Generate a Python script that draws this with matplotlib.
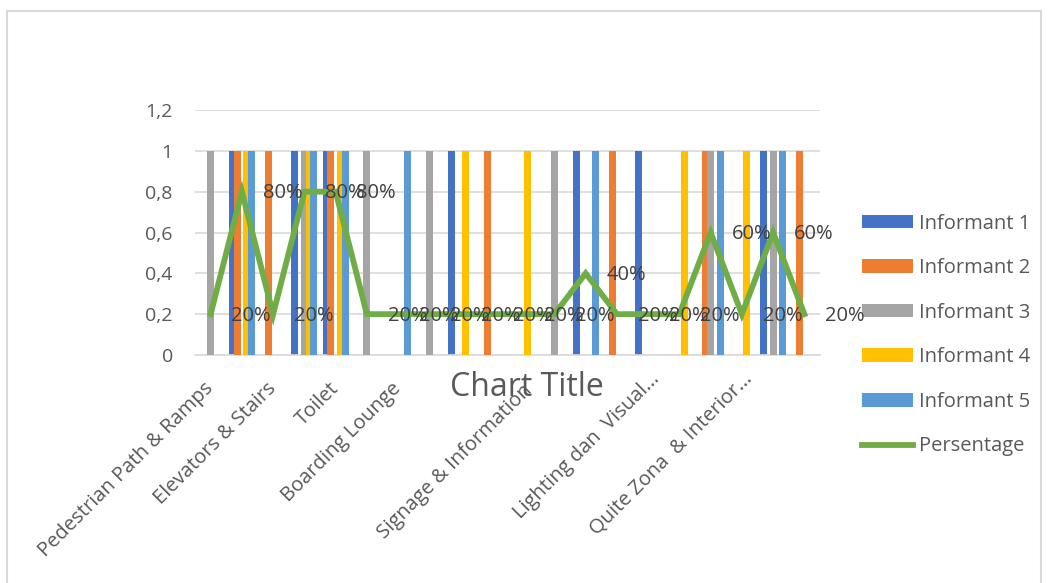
import numpy as np
import matplotlib
matplotlib.use("Agg")
from matplotlib import pyplot as plt
from matplotlib.patches import Rectangle
from matplotlib.transforms import ScaledTranslation

plt.rcParams['font.family'] = ['Open Sans', 'DejaVu Sans']

# 20 categories, only some of them carry a name
categories = ['Pedestrian Path & Ramps', '', 'Elevators & Stairs', '', 'Toilet', '',
              'Boarding Lounge', '', '', '', 'Signage & Information', '', '', '',
              'Lighting dan  Visual...', '', '', 'Quite Zona  & Interior...', '', '']

informant_1 = [0, 1, 0, 1, 1, 0, 0, 0, 1, 0, 0, 0, 1, 0, 1, 0, 0, 0, 1, 0]
informant_2 = [0, 1, 1, 0, 1, 0, 0, 0, 0, 1, 0, 0, 0, 1, 0, 0, 1, 0, 0, 1]
informant_3 = [1, 0, 0, 1, 0, 1, 0, 1, 0, 0, 0, 1, 0, 0, 0, 0, 1, 0, 1, 0]
informant_4 = [0, 1, 0, 1, 1, 0, 0, 0, 1, 0, 1, 0, 0, 0, 0, 1, 0, 1, 0, 0]
informant_5 = [0, 1, 0, 1, 1, 0, 1, 0, 0, 0, 0, 0, 1, 0, 0, 0, 1, 0, 1, 0]
persentage = [0.2, 0.8, 0.2, 0.8, 0.8, 0.2, 0.2, 0.2, 0.2, 0.2,
              0.2, 0.2, 0.4, 0.2, 0.2, 0.2, 0.6, 0.2, 0.6, 0.2]

series_names = ['Informant 1', 'Informant 2', 'Informant 3', 'Informant 4', 'Informant 5']
colors = ['#4472C4', '#ED7D31', '#A5A5A5', '#FFC000', '#5B9BD5']
text_col = '#595959'

W, H = 1052, 583
fig = plt.figure(figsize=(W / 100, H / 100), dpi=100)
ax = fig.add_axes([195 / W, 1 - 355 / H, (820 - 195) / W, (355 - 110) / H])

x = np.arange(len(categories))
step = 0.152
width = 0.224
handles = []
for i, (vals, name, c) in enumerate(zip(
        [informant_1, informant_2, informant_3, informant_4, informant_5], series_names, colors)):
    handles.append(ax.bar(x + (i - 2) * step, vals, width, color=c, label=name, zorder=2 + i))

line, = ax.plot(x, persentage, color='#70AD47', lw=4.2, label='Persentage', zorder=10,
                solid_joinstyle='miter')
handles.append(line)
for xi, v in zip(x, persentage):
    ax.annotate(f"{int(round(v * 100))}%", (xi, v), xytext=(15, -1), textcoords='offset points',
                ha='left', va='center', fontsize=14.5, color='#404040', zorder=11)

ax.set_xlim(-0.5, len(categories) - 0.5)
ax.set_ylim(0, 1.2)
ax.set_yticks(np.arange(0, 1.21, 0.2))
ax.set_yticklabels(['0', '0,2', '0,4', '0,6', '0,8', '1', '1,2'])
ax.yaxis.grid(True, color='#D9D9D9', lw=1.2, zorder=0)
ax.set_axisbelow(True)
for s in ['left', 'right', 'top']:
    ax.spines[s].set_visible(False)
ax.spines['bottom'].set_color('#D9D9D9')
ax.spines['bottom'].set_linewidth(1.2)
ax.tick_params(axis='y', length=0, pad=16, labelsize=14, labelcolor=text_col)

named = [i for i, c in enumerate(categories) if c]
ax.set_xticks(named)
ax.set_xticklabels([categories[i] for i in named], rotation=45, ha='right', va='center',
                   rotation_mode='anchor', fontsize=14.5, color=text_col)
ax.tick_params(axis='x', length=0, pad=22)

# the truncated labels sit a little further along the diagonal in the original
shift = {'Signage & Information': (6, -2), 'Lighting dan  Visual...': (9, 9),
         'Quite Zona  & Interior...': (8, 9)}
for lab in ax.get_xticklabels():
    if lab.get_text() in shift:
        dx, dy = shift[lab.get_text()]
        lab.set_transform(lab.get_transform() + ScaledTranslation(dx / 100, dy / 100, fig.dpi_scale_trans))

fig.text(527 / W, 1 - 387 / H, 'Chart Title', ha='center', va='center',
         fontsize=23, color=text_col)

leg = ax.legend(handles=handles, loc='center left', bbox_to_anchor=(862 / W, 1 - 335 / H),
                bbox_transform=fig.transFigure, frameon=False, fontsize=14.5,
                handlelength=2.55, handleheight=0.65, labelspacing=1.22,
                handletextpad=0.3, borderpad=0, borderaxespad=0)
for t in leg.get_texts():
    t.set_color(text_col)

# chart area border
fig.patches.append(Rectangle((7 / W, -0.01), (1041 - 7) / W, 1 - 11 / H + 0.01,
                             transform=fig.transFigure, fill=False,
                             edgecolor='#D9D9D9', lw=1.5))

fig.savefig('out.png', dpi=100)
